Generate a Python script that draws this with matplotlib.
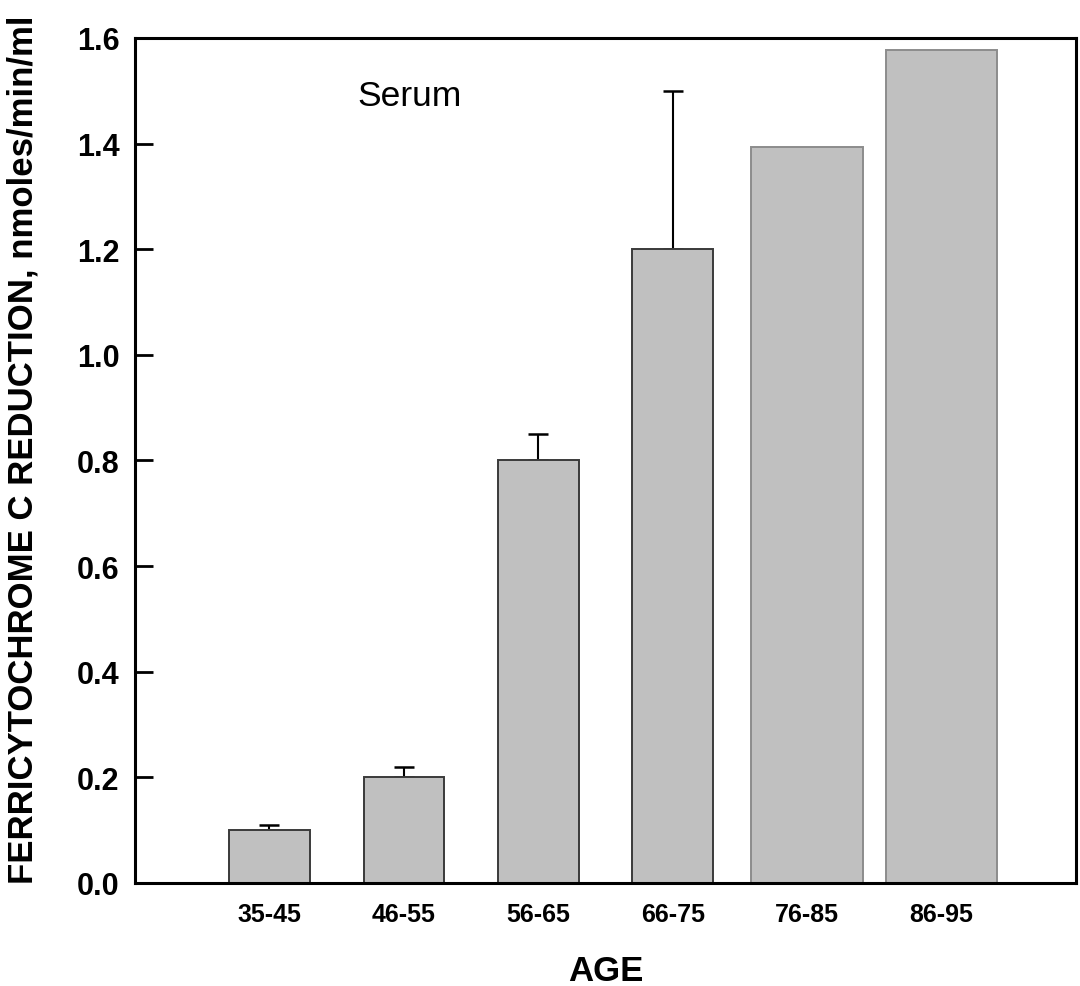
import numpy as np
import matplotlib
matplotlib.use("Agg")
import matplotlib.pyplot as plt
from matplotlib import font_manager

# data
ages = ["35-45", "46-55", "56-65", "66-75", "76-85", "86-95"]
reduction = [0.10, 0.20, 0.80, 1.20, 1.393, 1.577]
err_upper = [0.01, 0.02, 0.05, 0.30, 0.0, 0.0]
has_err = [True, True, True, True, False, False]

installed = {f.name for f in font_manager.fontManager.ttflist}
narrow = "Liberation Sans Narrow" if "Liberation Sans Narrow" in installed else "Liberation Sans"

plt.rcParams['font.family'] = ['Liberation Sans', 'DejaVu Sans']

fig = plt.figure(figsize=(10.8, 9.87), dpi=100)
ax = fig.add_axes([0.125, 0.1044, 0.8713, 0.8561])

x = np.arange(len(ages))
widths = [0.6, 0.6, 0.6, 0.6, 0.83, 0.83]
edges = ["#3a3a3a", "#3a3a3a", "#3a3a3a", "#3a3a3a", "#8c8c8c", "#8c8c8c"]
ax.bar(x, reduction, width=widths, color="#c0c0c0", edgecolor=edges,
       linewidth=1.4, zorder=2)

ex = [xi for xi, h in zip(x, has_err) if h]
ey = [v for v, h in zip(reduction, has_err) if h]
ee = [e for e, h in zip(err_upper, has_err) if h]
ax.errorbar(ex, ey, yerr=[np.zeros(len(ee)), ee], fmt="none", ecolor="black",
            elinewidth=1.5, capsize=7.2, capthick=1.8, zorder=1)

ax.set_xlim(-1, 6)
ax.set_ylim(0, 1.6)
ax.set_yticks(np.arange(0, 1.61, 0.2))
ax.set_yticklabels(["%.1f" % v for v in np.arange(0, 1.61, 0.2)],
                   fontsize=22, fontweight="bold")
ax.set_xticks(x)
ax.set_xticklabels(ages, fontsize=18, fontweight="bold")
ax.tick_params(axis="y", direction="in", length=13, width=2, pad=11)
ax.tick_params(axis="x", length=0, pad=14)

for s in ax.spines.values():
    s.set_linewidth(2.2)

ax.text(0.654, 1.473, "Serum", fontsize=25.5, ha="left", va="baseline")

ax.set_xlabel("AGE", fontsize=25, fontweight="bold", labelpad=20)
fig.text(0.021, 0.544, "FERRICYTOCHROME C REDUCTION, nmoles/min/ml",
         rotation=90, ha="center", va="center", fontsize=25,
         fontweight="bold", family=narrow)

fig.savefig("out.png", dpi=100)
